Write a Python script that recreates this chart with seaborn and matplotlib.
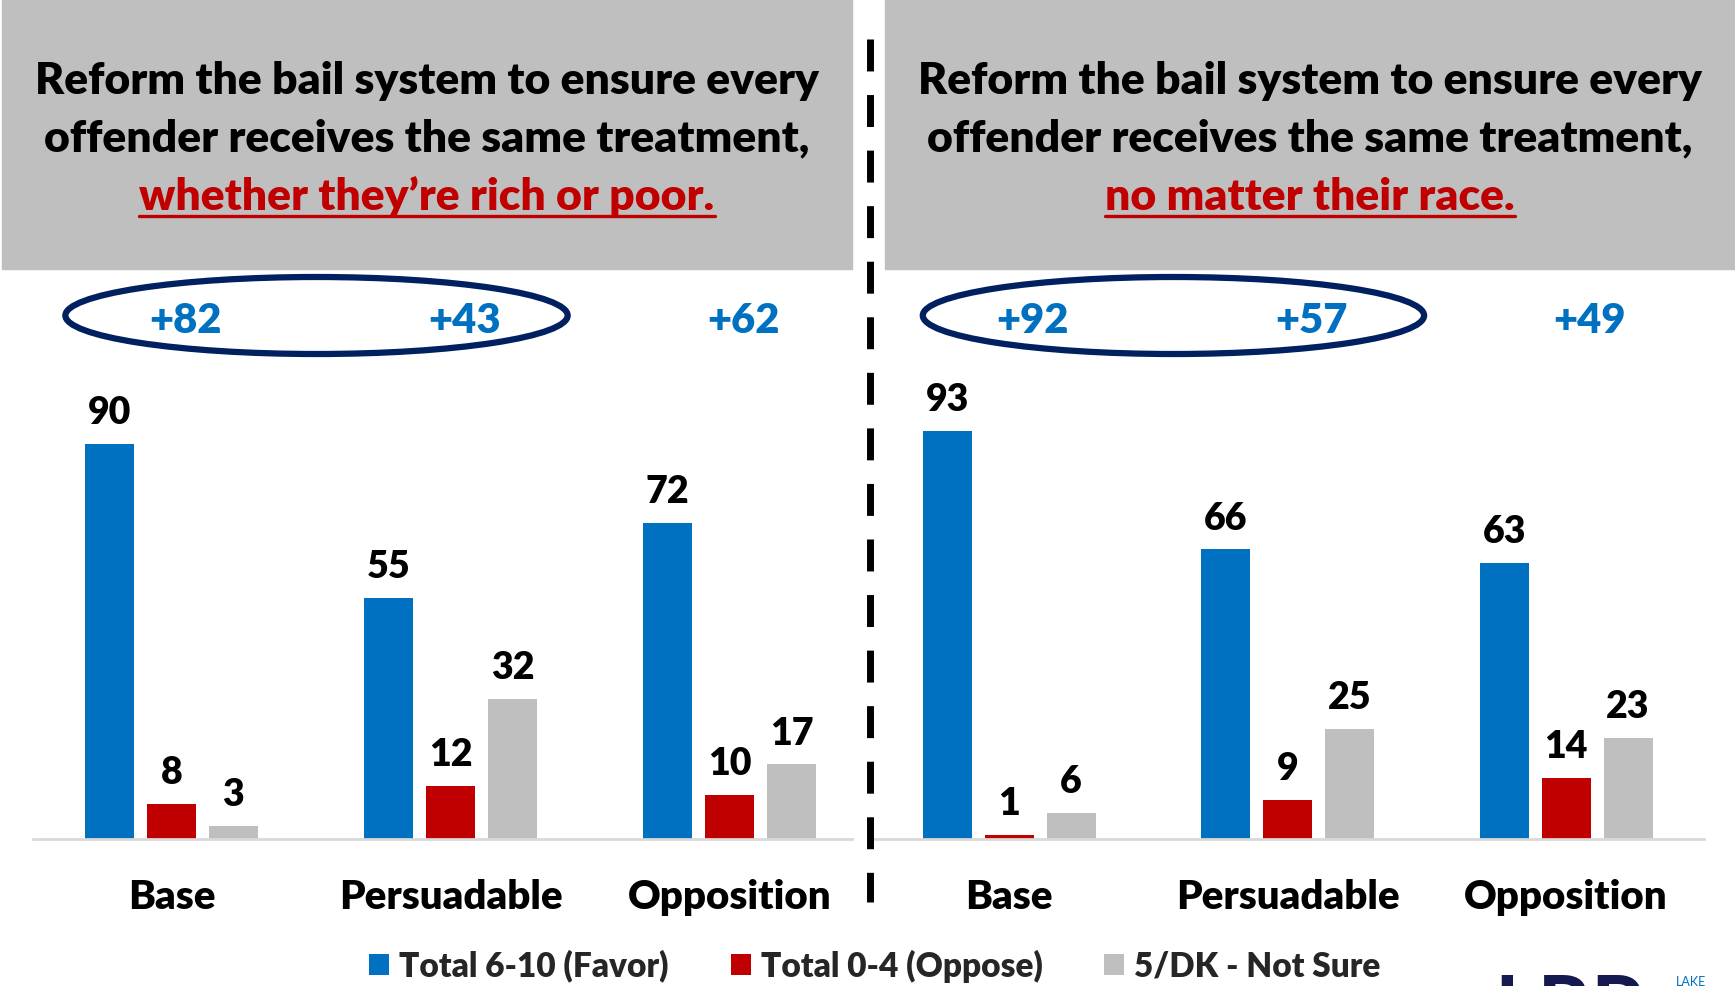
import numpy as np
import pandas as pd
import matplotlib
matplotlib.use("Agg")
import matplotlib.pyplot as plt
import matplotlib.transforms as mtransforms
from matplotlib.patches import Rectangle, Ellipse
from matplotlib.lines import Line2D
import seaborn as sns

# ---- data ----
groups = ['Base', 'Persuadable', 'Opposition']
series = ['Total 6-10 (Favor)', 'Total 0-4 (Oppose)', '5/DK - Not Sure']
colors = ['#0070C0', '#C00000', '#BFBFBF']

rich_favor = [90, 55, 72]
rich_oppose = [8, 12, 10]
rich_unsure = [3, 32, 17]

race_favor = [93, 66, 63]
race_oppose = [1, 9, 14]
race_unsure = [6, 25, 23]

title_lines = ['Reform the bail system to ensure every',
               'offender receives the same treatment,']
rich_tail = 'whether they\u2019re rich or poor.'
race_tail = 'no matter their race.'


def make_df(fav, opp, uns):
    rows = []
    for s, vals in zip(series, [fav, opp, uns]):
        for g, v in zip(groups, vals):
            rows.append({'group': g, 'series': s, 'value': v})
    return pd.DataFrame(rows)


sns.set_theme(style='white')
plt.rcParams['font.family'] = ['Lato', 'DejaVu Sans']
WT = 'heavy'

W, H = 1735, 986
fig = plt.figure(figsize=(W / 100, H / 100), dpi=100)
fig.patch.set_facecolor('white')


def fx(px):
    return px / W


def fy(py):
    return 1 - py / H


# gray header boxes
for x0, x1 in [(2, 852), (885, 1735)]:
    fig.add_artist(Rectangle((fx(x0), fy(269)), fx(x1) - fx(x0), 269 / H,
                             transform=fig.transFigure, color='#BFBFBF', zorder=0))

panels = [
    dict(left=33, right=852, xmax=2.439, fav=rich_favor, opp=rich_oppose, uns=rich_unsure,
         center=427, tail=rich_tail, tshift=0.05, eshift=0.0),
    dict(left=871, right=1704, xmax=2.495, fav=race_favor, opp=race_oppose, uns=race_unsure,
         center=1310, tail=race_tail, tshift=0.085, eshift=0.07),
]

fig.canvas.draw()
renderer = fig.canvas.get_renderer()

handles, labels = None, None
for p in panels:
    ax = fig.add_axes([fx(p['left']), fy(839), fx(p['right']) - fx(p['left']), fy(330) - fy(839)])
    ax.set_facecolor('none')
    df = make_df(p['fav'], p['opp'], p['uns'])
    sns.barplot(data=df, x='group', y='value', hue='series', palette=colors,
                width=0.667, gap=0.21, saturation=1, linewidth=0, ax=ax)
    handles, labels = ax.get_legend_handles_labels()
    ax.get_legend().remove()
    for c in ax.containers:
        ax.bar_label(c, fmt='%d', padding=10, fontsize=27, fontweight=WT, color='black')
    ax.set_ylim(0, 116)
    ax.set_xlim(-0.496, p['xmax'])
    ax.set_xlabel('')
    ax.set_ylabel('')
    ax.set_yticks([])
    ax.tick_params(axis='x', length=0, pad=29, labelsize=29)
    for lab in ax.get_xticklabels():
        lab.set_fontweight(WT)
        lab.set_color('black')
    sns.despine(ax=ax, left=True)
    ax.spines['bottom'].set_color('#D9D9D9')
    ax.spines['bottom'].set_linewidth(2)

    # net difference labels
    blend = mtransforms.blended_transform_factory(ax.transData, fig.transFigure)
    for i, (f, o) in enumerate(zip(p['fav'], p['opp'])):
        ax.text(i + p['tshift'], fy(321), f'+{f - o}', transform=blend,
                ha='center', va='center', fontsize=30, fontweight=WT,
                color='#0070C0', clip_on=False)
    fig.add_artist(Ellipse((0.52 + p['eshift'], fy(315.5)), 1.8, 77 / H, transform=blend,
                           facecolor='none', edgecolor='#002060', linewidth=4.5))

    # header text
    for ln, yb in zip(title_lines, [94, 151]):
        fig.text(fx(p['center']), fy(yb), ln, ha='center', va='baseline',
                 fontsize=32, fontweight=WT, color='black')
    t = fig.text(fx(p['center']), fy(210), p['tail'], ha='center', va='baseline',
                 fontsize=32, fontweight=WT, color='#C00000')
    bb = t.get_window_extent(renderer=renderer)
    fig.add_artist(Line2D([bb.x0 / W, bb.x1 / W], [fy(216), fy(216)],
                          transform=fig.transFigure, color='#C00000', linewidth=2.4))

# dashed divider
fig.add_artist(Line2D([fx(870), fx(870)], [fy(39), fy(902)], transform=fig.transFigure,
                      color='black', linewidth=5, dashes=(4.6, 3.4), dash_capstyle='butt'))

fig.legend(handles, labels, loc='center', bbox_to_anchor=(fx(875), fy(966)), ncol=3,
           frameon=False, handlelength=0.6, handleheight=0.6,
           handletextpad=0.3, columnspacing=1.85, prop={'weight': WT, 'size': 24})

# partial logo in corner
fig.text(fx(1494), fy(974), 'LRP', ha='left', va='top', fontsize=60,
         fontweight='bold', color='#14194F')
fig.text(fx(1676), fy(976), 'LAKE', ha='left', va='top', fontsize=9, color='#0070C0')

fig.savefig('out.png', dpi=100)
